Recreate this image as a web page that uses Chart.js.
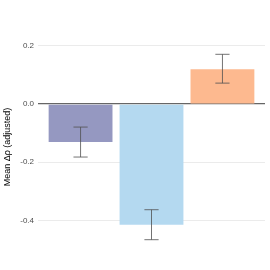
<!DOCTYPE html>
<html>
<head>
<meta charset="utf-8">
<script src="https://cdn.jsdelivr.net/npm/chart.js@4"></script>
<style>
  html, body { margin: 0; padding: 0; background: #ffffff; }
  #wrap { width: 270px; height: 270px; }
</style>
</head>
<body>
<div id="wrap"><canvas id="chartCanvas" width="270" height="270"></canvas></div>
<script>
// Data
const categories = ['A', 'B', 'C'];
const meanValues = [-0.130, -0.415, 0.120];
const errLow = [-0.182, -0.466, 0.072];
const errHigh = [-0.079, -0.363, 0.171];
const barColors = ['#9598c1', '#b4d9f0', '#fdb98f'];
const yTicks = [-0.4, -0.2, 0.0, 0.2];

// error bars drawn through the scales
const errorBarPlugin = {
    id: 'errorBars',
    afterDatasetsDraw(chart) {
        const ctx = chart.ctx;
        const xs = chart.scales.x;
        const ys = chart.scales.y;
        ctx.save();
        ctx.strokeStyle = 'rgba(80, 80, 80, 0.8)';
        ctx.lineWidth = 1;
        categories.forEach((c, i) => {
            const x = xs.getPixelForValue(i + 1);
            const half = Math.abs(xs.getPixelForValue(i + 1.1) - x);
            const y1 = ys.getPixelForValue(errLow[i]);
            const y2 = ys.getPixelForValue(errHigh[i]);
            ctx.beginPath();
            ctx.moveTo(x, y1); ctx.lineTo(x, y2);
            ctx.moveTo(x - half, y1); ctx.lineTo(x + half, y1);
            ctx.moveTo(x - half, y2); ctx.lineTo(x + half, y2);
            ctx.stroke();
        });
        ctx.restore();
    }
};

new Chart(document.getElementById('chartCanvas'), {
    type: 'bar',
    data: {
        datasets: [{
            data: meanValues.map((v, i) => ({ x: i + 1, y: v })),
            backgroundColor: barColors,
            borderWidth: 0,
            barPercentage: 0.9,
            categoryPercentage: 1.0
        }]
    },
    options: {
        responsive: false,
        animation: false,
        layout: { padding: { left: 0, right: 5, top: 45, bottom: 21 } },
        plugins: { legend: { display: false }, tooltip: { enabled: false } },
        scales: {
            x: {
                type: 'linear',
                min: 0.4,
                max: 3.6,
                display: false,
                offset: false,
                afterBuildTicks(scale) {
                    scale.ticks = categories.map((c, i) => ({ value: i + 1 }));
                }
            },
            y: {
                min: -0.498,
                max: 0.203,
                afterBuildTicks(scale) {
                    scale.ticks = yTicks.map(v => ({ value: v }));
                },
                afterFit(scale) { scale.width = 38; },
                border: { display: false },
                grid: {
                    drawTicks: false,
                    color: ctx => (ctx.tick && ctx.tick.value === 0) ? '#666666' : '#ebebeb',
                    lineWidth: ctx => (ctx.tick && ctx.tick.value === 0) ? 1.3 : 1
                },
                ticks: {
                    padding: 4,
                    color: '#4d4d4d',
                    font: { family: 'Liberation Sans', size: 8 },
                    callback: v => v.toFixed(1)
                },
                title: {
                    display: true,
                    text: 'Mean Δρ (adjusted)',
                    color: '#000000',
                    font: { family: 'Liberation Sans', size: 9 },
                    padding: { top: 2, bottom: 0 }
                }
            }
        }
    },
    plugins: [errorBarPlugin]
});
</script>
</body>
</html>
